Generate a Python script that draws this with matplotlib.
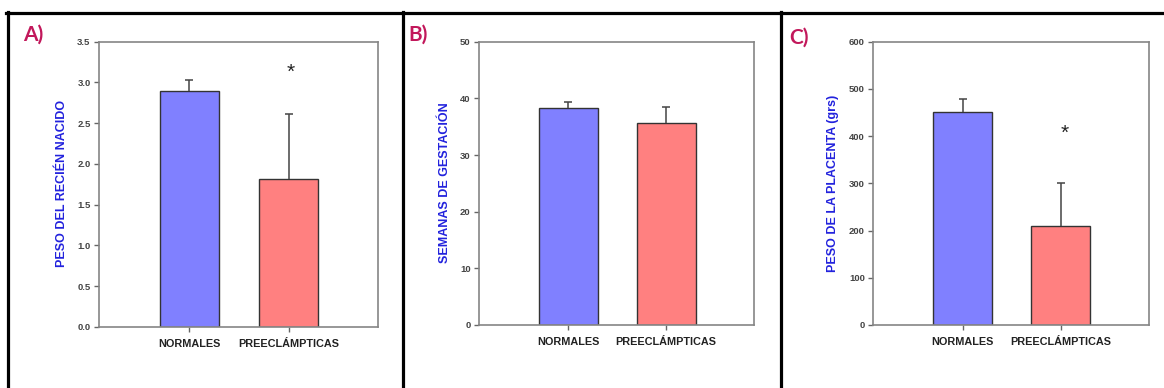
import matplotlib
matplotlib.use("Agg")
import matplotlib.pyplot as plt
from matplotlib.lines import Line2D

plt.rcParams['font.family'] = ['Liberation Sans', 'DejaVu Sans']

categories = ["NORMALES", "PREECLÁMPTICAS"]
peso_rn = [2.9, 1.82]
peso_rn_err = [0.13, 0.79]
semanas = [38.3, 35.6]
semanas_err = [1.1, 2.9]
placenta = [452, 210]
placenta_err = [27, 91]

panel_letters = ["A)", "B)", "C)"]
ylabels = ["PESO DEL RECIÉN NACIDO", "SEMANAS DE GESTACIÓN", "PESO DE LA PLACENTA (grs)"]
yticks_list = [[0.0, 0.5, 1.0, 1.5, 2.0, 2.5, 3.0, 3.5],
               [0, 10, 20, 30, 40, 50],
               [0, 100, 200, 300, 400, 500, 600]]
ytick_fmt = ["{:.1f}", "{:d}", "{:d}"]

W, H = 1164, 388
fig = plt.figure(figsize=(W / 100, H / 100), dpi=100)

bar_colors = ["#8080ff", "#ff8080"]

axes_px = [(99, 41.7, 378, 327), (479, 41.7, 754.3, 325), (873.3, 41.7, 1149.3, 325)]
ylabel_x = [62, 445, 833]
letter_xy = [(33, 35), (418, 35), (799, 38)]
star_pos = [(2.02, 3.13), None, (2.04, 405)]

data = [(peso_rn, peso_rn_err), (semanas, semanas_err), (placenta, placenta_err)]

for i, (vals, errs) in enumerate(data):
    x0, y0, x1, y1 = axes_px[i]
    ax = fig.add_axes([x0 / W, 1 - y1 / H, (x1 - x0) / W, (y1 - y0) / H])
    xs = [1, 2]
    ax.bar(xs, vals, width=0.6, color=bar_colors, edgecolor="#333333", linewidth=1.0, zorder=2)
    eb = ax.errorbar(xs, vals, yerr=[[0, 0], errs], fmt='none', ecolor="#444444",
                     elinewidth=1.1, capsize=3, capthick=1.1, zorder=3)
    caplines = eb[1]
    if len(caplines) == 2:
        caplines[0].set_visible(False)
    ax.set_xlim(0.09, 2.9)
    yt = yticks_list[i]
    ax.set_ylim(yt[0], yt[-1])
    ax.set_yticks(yt)
    ax.set_yticklabels([ytick_fmt[i].format(v) for v in yt])
    ax.set_xticks(xs)
    ax.set_xticklabels(categories, fontweight='bold', fontsize=7.8, color="#222222")
    for sp in ax.spines.values():
        sp.set_color("#858585")
        sp.set_linewidth(1.2)
    ax.tick_params(axis='y', direction='out', length=3.6, width=1, color="#666666",
                   labelsize=6.8, labelcolor="#444444", pad=2.5)
    ax.tick_params(axis='x', direction='out', length=3.6, width=1, color="#666666", pad=5)
    for lab in ax.get_yticklabels():
        lab.set_fontweight('bold')
    if star_pos[i] is not None:
        ax.text(star_pos[i][0], star_pos[i][1], "*", ha='center', va='center',
                fontsize=15, color="#222222")
    fig.text(ylabel_x[i] / W, 1 - 183 / H, ylabels[i], rotation=90, ha='center', va='center',
             fontsize=9, fontweight='bold', color="#2222dd")
    fig.text(letter_xy[i][0] / W, 1 - letter_xy[i][1] / H, panel_letters[i],
             ha='center', va='center', fontsize=15, fontweight='bold', color="#c2185b",
             family=['Lato', 'DejaVu Sans'])

lw = 2.3
fig.add_artist(Line2D([6 / W, 1], [1 - 12.5 / H, 1 - 12.5 / H], color='black', lw=lw,
                      transform=fig.transFigure))
for xp in [8, 402.5, 781.5]:
    fig.add_artist(Line2D([xp / W, xp / W], [0, 1 - 11.5 / H], color='black', lw=lw,
                          transform=fig.transFigure))

fig.savefig("out.png", dpi=100)
